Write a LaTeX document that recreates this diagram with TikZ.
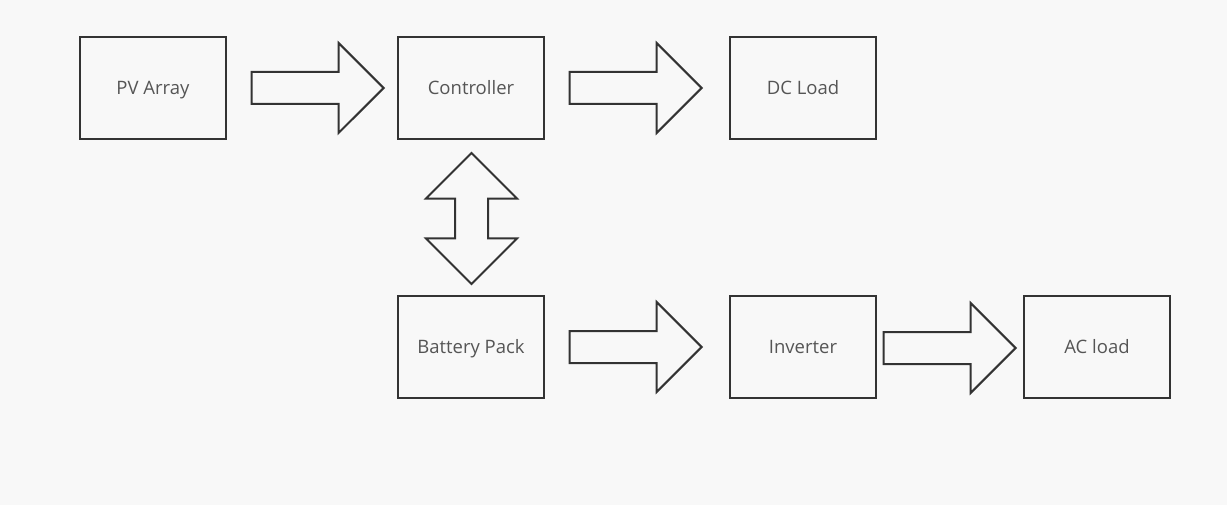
\documentclass[tikz,border=0pt]{standalone}
\usepackage{fontspec}
\setmainfont{Open Sans}
\usetikzlibrary{shapes.arrows}
\definecolor{bg}{HTML}{F8F8F8}
\definecolor{ln}{HTML}{333333}
\definecolor{tx}{HTML}{555555}
\begin{document}
\begin{tikzpicture}[x=1pt,y=-1pt,
  box/.style={draw=ln,line width=2pt,fill=bg,minimum width=146pt,minimum height=102pt,inner sep=0pt,
    font=\fontsize{18.5}{20}\selectfont,text=tx,text height=16.2pt,text depth=3pt},
  rarrow/.style={single arrow,draw=ln,line width=2pt,fill=bg,inner sep=0pt,inner ysep=15pt,inner xsep=0pt,
    minimum height=132pt,minimum width=88pt,single arrow head extend=29pt,single arrow tip angle=90,line join=miter,anchor=tip},
  darrow/.style={double arrow,draw=ln,line width=2pt,fill=bg,inner sep=0pt,inner ysep=15.5pt,inner xsep=0pt,
    minimum height=131pt,minimum width=89pt,double arrow head extend=29pt,double arrow tip angle=90,rotate=90,line join=miter}]
\fill[bg] (0,0) rectangle (1227,505);
\useasboundingbox (0,0) rectangle (1227,505);
\node[box] (pv) at (153,88) {PV Array};
\node[box] (ctrl) at (471,88) {Controller};
\node[box] (dc) at (803,88) {DC Load};
\node[box] (bat) at (471,347) {Battery Pack};
\node[box] (inv) at (803,347) {Inverter};
\node[box] (ac) at (1097,347) {AC load};
\node[rarrow] (a1) at (385,88) {};
\node[rarrow] (a2) at (703,88) {};
\node[rarrow] (a3) at (703,347) {};
\node[rarrow] (a4) at (1017,348) {};
\node[darrow] (a5) at (471.5,218.5) {};
\end{tikzpicture}
\end{document}
